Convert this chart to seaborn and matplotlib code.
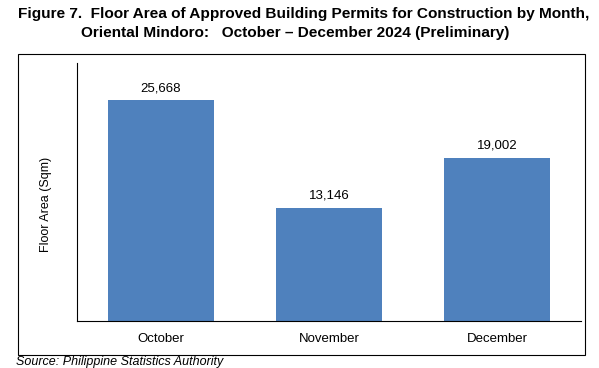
import matplotlib
matplotlib.use("Agg")
import matplotlib.pyplot as plt
from matplotlib.patches import Rectangle
import seaborn as sns
import pandas as pd

months = ["October", "November", "December"]
floor_area = [25668, 13146, 19002]

df = pd.DataFrame({"month": months, "area": floor_area})

sns.set_style("white")
plt.rcParams['font.family'] = ['Liberation Sans', 'DejaVu Sans']
plt.rcParams['text.color'] = 'black'
plt.rcParams['axes.labelcolor'] = 'black'
plt.rcParams['xtick.color'] = 'black'

W, H = 599, 368
fig = plt.figure(figsize=(W / 100, H / 100), dpi=100)
ax = fig.add_axes([77 / W, 1 - 321 / H, (581 - 77) / W, (321 - 63) / H])

sns.barplot(data=df, x="month", y="area", color="#4F81BD", saturation=1,
            width=0.63, ax=ax, edgecolor="none")

for i, v in enumerate(floor_area):
    ax.text(i, v + 700, f"{v:,}", ha="center", va="bottom", fontsize=9.5)

ax.set_xlim(-0.5, 2.5)
ax.set_ylim(0, 30000)
ax.set_yticks([])
ax.set_xlabel("")
ax.set_ylabel("Floor Area (Sqm)", fontsize=9)
ax.yaxis.set_label_coords(-0.05, 0.45)
ax.tick_params(axis="x", length=0, labelsize=9.5, pad=9)
for s in ["top", "right"]:
    ax.spines[s].set_visible(False)
for s in ["bottom", "left"]:
    ax.spines[s].set_color("#000000")
    ax.spines[s].set_linewidth(0.8)

# outer frame
fig.add_artist(Rectangle((18 / W, 1 - 355 / H), (585 - 18) / W, (355 - 54) / H,
                         transform=fig.transFigure, fill=False,
                         edgecolor="black", linewidth=0.8))

title_font = ['Liberation Sans', 'DejaVu Sans']
fig.text(18 / W, 1 - 14 / H, "Figure 7.  Floor Area of Approved Building Permits for Construction by Month,",
         fontsize=11.1, fontweight="bold", family=title_font, va="center", ha="left")
fig.text(81 / W, 1 - 33 / H, "Oriental Mindoro:   October \u2013 December 2024 (Preliminary)",
         fontsize=11.1, fontweight="bold", family=title_font, va="center", ha="left")

fig.text(16 / W, 1 - 362 / H, "Source: Philippine Statistics Authority",
         fontsize=9, style="italic", family=title_font, va="center", ha="left")

plt.savefig("out.png", dpi=100)
